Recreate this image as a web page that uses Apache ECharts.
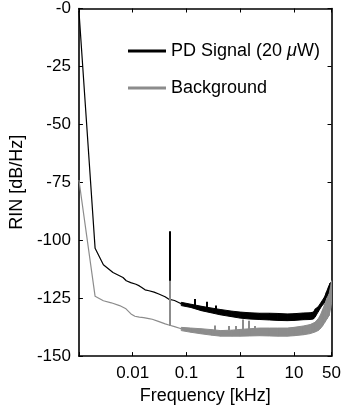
<!DOCTYPE html>
<html>
<head>
<meta charset="utf-8">
<script src="https://cdn.jsdelivr.net/npm/echarts@6/dist/echarts.min.js"></script>
<style>
html,body{margin:0;padding:0;background:#fff;}
#chart{width:344px;height:410px;}
</style>
</head>
<body>
<div id="chart"></div>
<script>
// ---- data (frequency in kHz, RIN in dB/Hz) ----
const seriesNames = ['PD Signal (20 μW)', 'Background'];

// thin low-frequency part of the PD signal
const blackF = [0.001, 0.002, 0.00285, 0.0043, 0.0066, 0.0076, 0.0092, 0.0115, 0.0133, 0.0145, 0.0152, 0.017, 0.0201, 0.025, 0.0306, 0.04, 0.0465, 0.06, 0.08];
const blackV = [-1, -103.5, -110.6, -113.9, -116.1, -117.5, -118.3, -119, -119.7, -120.3, -121.1, -121.4, -121.8, -122.4, -123.2, -124.4, -125.4, -126, -127.4];
// noisy band of the PD signal (upper / lower envelope)
const blackBandF  = [0.08, 0.12, 0.19, 0.3, 0.43, 0.7, 1, 1.5, 2.3, 3.5, 5, 7.5, 10, 15, 20, 23, 25, 28, 32.6, 37, 40, 44, 47, 50];
const blackBandHi = [-126.8, -127.6, -128.5, -129.3, -129.9, -130.6, -131, -131.3, -131.5, -131.5, -131.6, -131.8, -131.7, -131.4, -131.3, -131, -129.6, -128.8, -126.5, -124.5, -122.5, -120, -118.5, -118];
const blackBandLo = [-128.2, -129, -130.4, -131.4, -132.2, -133, -133.6, -134, -134.2, -134.4, -134.6, -134.7, -134.6, -134.3, -134.2, -134, -133, -131, -128.5, -127, -125.5, -123.5, -122, -121];
// spikes of the PD signal
const blackSpikeF    = [0.0485, 0.145, 0.24, 0.345];
const blackSpikeTop  = [-96.1, -125.4, -126.5, -128.2];
const blackSpikeBase = [-126, -128.8, -129.8, -130.5];

// thin low-frequency part of the background
const greyF = [0.001, 0.002, 0.00285, 0.004, 0.0057, 0.0075, 0.0093, 0.011, 0.0133, 0.016, 0.02, 0.0231, 0.03, 0.0403, 0.047, 0.06, 0.08];
const greyV = [-74, -124.2, -126.1, -127, -128.2, -129.6, -131.8, -132.8, -133.2, -133.4, -133.8, -134.1, -135, -136.1, -136.6, -137.3, -138.2];
// noisy band of the background
const greyBandF  = [0.08, 0.12, 0.19, 0.3, 0.43, 0.7, 1, 1.5, 2.3, 3.5, 5, 7.5, 10, 15, 20, 24.6, 28, 30.8, 34, 37.5, 41, 45, 48, 50];
const greyBandHi = [-137.6, -137.9, -138.2, -138.6, -139, -138.8, -138.5, -138.2, -137.9, -137.9, -137.9, -137.9, -137.6, -137, -136.4, -135.4, -134, -132.5, -130, -127.5, -125, -123.2, -120, -117.5];
const greyBandLo = [-139, -139.7, -140.4, -141, -141.4, -141.4, -141.4, -141.3, -141.2, -141.3, -141.4, -141.4, -141.2, -140.8, -140.3, -139.6, -139, -138.2, -137, -135.4, -134, -132.5, -129.5, -127];
// spikes of the background
const greySpikeF    = [0.0485, 0.34, 0.61, 0.81, 1.12, 1.45, 1.87];
const greySpikeTop  = [-117.5, -136.8, -137, -137, -134.2, -134.7, -137];
const greySpikeBase = [-137, -139, -139, -139, -139, -139, -139];

// axis ticks
const xTickValues = [0.01, 0.1, 1, 10, 50];
const xTickLabels = ['0.01', '0.1', '1', '10', '50'];
const yTickValues = [-150, -125, -100, -75, -50, -25, 0];
const yTickLabels = ['-150', '-125', '-100', '-75', '-50', '-25', '-0'];

// ---- chart ----
const BLACK = '#000000';
const GREY = '#8c8c8c';
const FONT = 'Liberation Sans';

function pairs(xs, ys) { return xs.map((x, i) => [x, ys[i]]); }
// band segments: [f_i, hi_i, lo_i, f_i+1, hi_i+1, lo_i+1]
function bandSegments(fs, hi, lo) {
  const out = [];
  for (let i = 0; i < fs.length - 1; i++) out.push([fs[i], hi[i], lo[i], fs[i + 1], hi[i + 1], lo[i + 1]]);
  return out;
}
function bandRender(color) {
  return function (params, api) {
    const a = api.coord([api.value(0), api.value(1)]);
    const b = api.coord([api.value(3), api.value(4)]);
    const c = api.coord([api.value(3), api.value(5)]);
    const d = api.coord([api.value(0), api.value(2)]);
    return {
      type: 'polygon',
      shape: { points: [a, b, c, d] },
      style: { fill: color, stroke: color, lineWidth: 1 }
    };
  };
}
function spikes(fs, base, top) {
  return fs.map((f, i) => [{ coord: [f, base[i]] }, { coord: [f, top[i]] }]);
}
function xFmt(v) {
  const i = xTickValues.findIndex(t => Math.abs(Math.log10(v) - Math.log10(t)) < 1e-4);
  return i < 0 ? '' : xTickLabels[i];
}
function yFmt(v) {
  const i = yTickValues.findIndex(t => Math.abs(v - t) < 1e-6);
  return i < 0 ? '' : yTickLabels[i];
}

const axisLineStyle = { color: BLACK, width: 1.6 };
const tickStyle = { show: true, inside: true, length: 4, lineStyle: { color: BLACK, width: 1 } };

const chart = echarts.init(document.getElementById('chart'), null, { renderer: 'canvas' });
chart.setOption({
  animation: false,
  backgroundColor: '#fff',
  textStyle: { fontFamily: FONT, color: BLACK },
  grid: { left: 75, right: 11, top: 8, bottom: 53, containLabel: false },
  legend: {
    orient: 'vertical', left: 128, top: 40, padding: 0,
    itemWidth: 38, itemHeight: 3, itemGap: 15,
    data: [
      { name: seriesNames[0], icon: 'rect', itemStyle: { color: BLACK } },
      { name: seriesNames[1], icon: 'rect', itemStyle: { color: GREY } }
    ],
    formatter: function (n) { return n === seriesNames[0] ? 'PD Signal (20 {i|μ}W)' : n; },
    textStyle: {
      fontFamily: FONT, fontSize: 18, color: BLACK, lineHeight: 22,
      rich: { i: { fontFamily: FONT, fontSize: 18, fontStyle: 'italic', color: BLACK } }
    }
  },
  xAxis: [{
    type: 'log', logBase: 10, min: 0.001, max: 50, position: 'bottom',
    name: 'Frequency [kHz]', nameLocation: 'middle', nameGap: 28,
    nameTextStyle: { fontFamily: FONT, fontSize: 18, color: BLACK },
    axisLine: { show: true, onZero: false, lineStyle: axisLineStyle },
    axisTick: tickStyle,
    axisLabel: { formatter: xFmt, fontFamily: FONT, fontSize: 17, color: BLACK, margin: 9, showMaxLabel: true, showMinLabel: true, hideOverlap: false },
    splitLine: { show: false }, minorTick: { show: false }
  }, {
    type: 'log', logBase: 10, min: 0.001, max: 50, position: 'top',
    axisLine: { show: true, onZero: false, lineStyle: axisLineStyle },
    axisTick: tickStyle, axisLabel: { show: false }, splitLine: { show: false }
  }],
  yAxis: [{
    type: 'value', min: -150, max: 0, interval: 25, position: 'left',
    name: 'RIN [dB/Hz]', nameLocation: 'middle', nameGap: 47,
    nameTextStyle: { fontFamily: FONT, fontSize: 18, color: BLACK },
    axisLine: { show: true, onZero: false, lineStyle: axisLineStyle },
    axisTick: tickStyle,
    axisLabel: { formatter: yFmt, fontFamily: FONT, fontSize: 17, color: BLACK, margin: 8 },
    splitLine: { show: false }
  }, {
    type: 'value', min: -150, max: 0, interval: 25, position: 'right',
    axisLine: { show: true, onZero: false, lineStyle: axisLineStyle },
    axisTick: tickStyle, axisLabel: { show: false }, splitLine: { show: false }
  }],
  series: [
    {
      name: seriesNames[0], type: 'line', xAxisIndex: 0, yAxisIndex: 0,
      data: pairs(blackF, blackV), showSymbol: false, symbol: 'none',
      lineStyle: { color: BLACK, width: 1.2 }, itemStyle: { color: BLACK },
      markLine: {
        silent: true, symbol: 'none', label: { show: false },
        lineStyle: { color: BLACK, width: 2, type: 'solid' },
        data: spikes(blackSpikeF, blackSpikeBase, blackSpikeTop)
      }
    },
    {
      name: 'pd-band', type: 'custom', xAxisIndex: 0, yAxisIndex: 0, clip: true,
      data: bandSegments(blackBandF, blackBandHi, blackBandLo),
      encode: { x: [0, 3], y: [1, 2, 4, 5] },
      renderItem: bandRender(BLACK), itemStyle: { color: BLACK }, silent: true
    },
    {
      name: seriesNames[1], type: 'line',
      data: pairs(greyF, greyV), showSymbol: false, symbol: 'none',
      lineStyle: { color: GREY, width: 1.2 }, itemStyle: { color: GREY },
      markLine: {
        silent: true, symbol: 'none', label: { show: false },
        lineStyle: { color: GREY, width: 2, type: 'solid' },
        data: spikes(greySpikeF, greySpikeBase, greySpikeTop)
      }
    },
    {
      name: 'bg-band', type: 'custom', xAxisIndex: 0, yAxisIndex: 0, clip: true,
      data: bandSegments(greyBandF, greyBandHi, greyBandLo),
      encode: { x: [0, 3], y: [1, 2, 4, 5] },
      renderItem: bandRender(GREY), itemStyle: { color: GREY }, silent: true
    }
  ]
});
</script>
</body>
</html>
